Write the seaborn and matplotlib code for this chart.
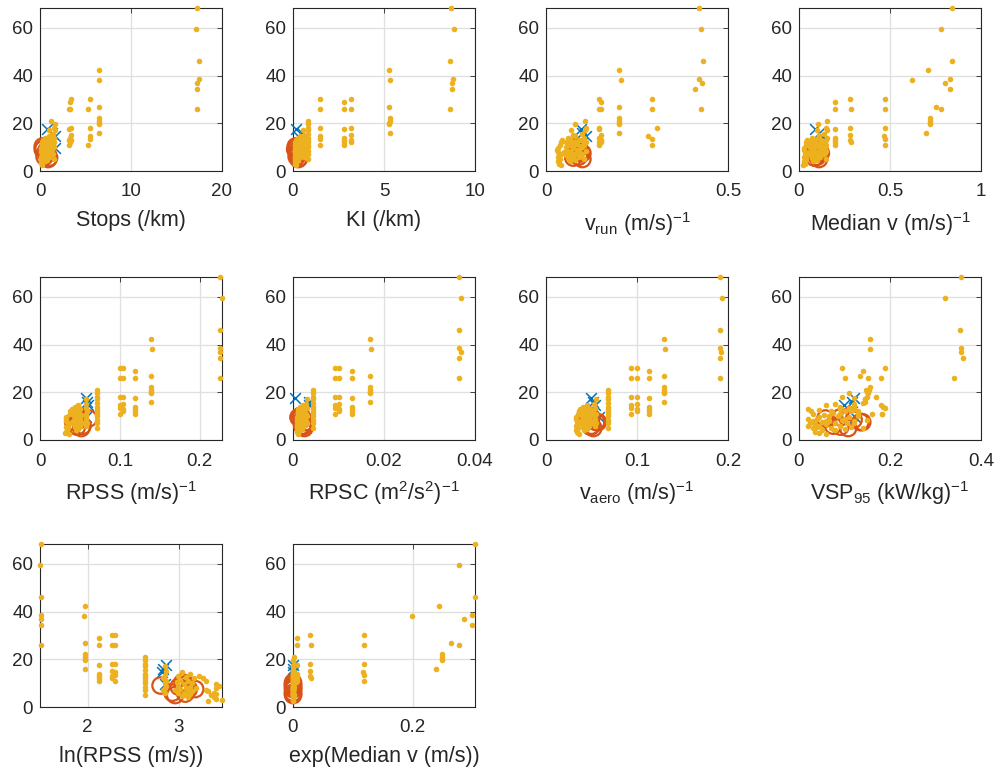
import numpy as np
import matplotlib
matplotlib.use("Agg")
import matplotlib.pyplot as plt
from matplotlib.ticker import FixedLocator, StrMethodFormatter
import seaborn as sns

# MATLAB default colour order
BLUE, RED, YELLOW = "#0072BD", "#D95319", "#EDB120"

# ---------------- group 1 (blue crosses) ----------------
blue_y     = [17.5, 16.0, 14.5, 9.5]
blue_stops = [0.75, 1.3, 1.6, 1.7]
blue_ki    = [0.15, 0.5, 0.3, 0.4]
blue_vrun  = [0.095, 0.1, 0.11, 0.1]
blue_medv  = [0.088, 0.11, 0.125, 0.12]
blue_rpss  = [0.057, 0.059, 0.06, 0.058]
blue_rpsc  = [0.0005, 0.0035, 0.0035, 0.003]
blue_vaero = [0.049, 0.052, 0.054, 0.058]
blue_vsp   = [0.12, 0.117, 0.098, 0.124]

# ---------------- group 2 (red open circles) ----------------
red_y     = [9.0, 6.0, 5.0, 10.3, 7.5, 5.6, 7.5, 9.5, 8.5]
red_stops = [0.3, 0.5, 0.9, 0.3, 0.6, 1.0, 0.8, 0.4, 0.7]
red_ki    = [0.12, 0.2, 0.3, 0.15, 0.25, 0.35, 0.3, 0.18, 0.22]
red_vrun  = [0.08, 0.09, 0.1, 0.085, 0.095, 0.075, 0.1, 0.09, 0.08]
red_medv  = [0.08, 0.1, 0.11, 0.09, 0.12, 0.085, 0.105, 0.095, 0.1]
red_rpss  = [0.0608, 0.0534, 0.0518, 0.0478, 0.0446, 0.0464, 0.0416, 0.046, 0.0498]
red_rpsc  = [0.0015, 0.002, 0.0025, 0.0018, 0.003, 0.0022, 0.0028, 0.0012, 0.002]
red_vaero = [0.045, 0.05, 0.052, 0.047, 0.055, 0.049, 0.057, 0.05, 0.048]
red_vsp   = [0.058, 0.075, 0.108, 0.113, 0.135, 0.091, 0.139, 0.091, 0.12]

# ---------------- group 3 (yellow dots) ----------------
# blocks: urban-heavy cycles (7, 8, 7, 6, 6) followed by the low cluster (13, 10, 24, 15)
yel_y = [
    68.3, 59.5, 46.0, 38.5, 37.0, 34.5, 26.0,
    42.5, 38.0, 27.0, 22.0, 21.0, 20.0, 19.5, 16.0,
    29.0, 26.0, 17.5, 14.0, 13.0, 12.0, 11.0,
    30.0, 26.0, 18.0, 14.5, 13.5, 11.0,
    30.0, 26.0, 18.0, 15.0, 13.0, 12.0,
    21.0, 19.5, 18.0, 17.0, 15.5, 14.0, 13.0, 12.0, 11.0, 10.0, 8.5, 7.0, 5.0,
    17.0, 15.0, 13.5, 12.0, 11.0, 10.0, 9.0, 8.0, 7.0, 6.0,
    14.5, 14.0, 13.0, 12.5, 12.0, 11.5, 11.0, 10.5, 10.0, 9.5, 9.0, 8.5,
    8.0, 8.0, 7.5, 7.0, 7.0, 6.5, 6.0, 6.0, 5.5, 5.0, 4.5, 4.0,
    13.0, 12.0, 11.0, 9.5, 9.0, 8.0, 7.0, 6.5, 6.0, 5.5, 5.0, 4.0, 3.5, 3.0, 2.5,
]
yel_stops = [
    17.2, 17.1, 17.5, 17.5, 17.3, 17.2, 17.2,
    6.5, 6.5, 6.5, 6.5, 6.5, 6.45, 6.5, 6.5,
    3.3, 3.2, 3.2, 3.3, 3.2, 3.3, 3.2,
    5.5, 5.3, 5.5, 5.5, 5.5, 5.3,
    3.4, 3.3, 3.4, 3.4, 3.4, 3.3,
    1.2, 1.6, 1.5, 1.6, 1.4, 1.5, 1.3, 1.5, 1.4, 1.5, 1.3, 1.4, 1.5,
    1.0, 1.3, 1.1, 1.2, 0.9, 1.0, 1.2, 0.9, 1.1, 1.0,
    1.0, 0.6, 1.1, 0.8, 0.4, 0.9, 0.5, 1.2, 0.4, 0.7, 1.0, 0.5,
    0.6, 0.3, 0.9, 0.5, 1.1, 0.4, 0.7, 1.0, 0.5, 0.6, 0.8, 0.5,
    0.3, 0.2, 0.25, 0.1, 0.15, 0.1, 0.3, 0.2, 0.15, 0.1, 0.2, 0.1, 0.15, 0.2, 0.25,
]
yel_ki = [
    8.7, 8.85, 8.65, 8.8, 8.75, 8.75, 8.65,
    5.3, 5.35, 5.3, 5.35, 5.35, 5.3, 5.3, 5.35,
    2.8, 2.8, 2.8, 2.8, 2.8, 2.8, 2.8,
    1.5, 1.5, 1.5, 1.5, 1.5, 1.5,
    3.2, 3.2, 3.2, 3.2, 3.2, 3.2,
    0.8, 0.8, 0.8, 0.8, 0.8, 0.8, 0.8, 0.8, 0.8, 0.8, 0.8, 0.8, 0.8,
    0.55, 0.6, 0.55, 0.6, 0.5, 0.55, 0.6, 0.5, 0.55, 0.6,
    0.4, 0.25, 0.45, 0.3, 0.15, 0.35, 0.2, 0.5, 0.15, 0.3, 0.4, 0.2,
    0.25, 0.1, 0.35, 0.2, 0.45, 0.15, 0.3, 0.4, 0.2, 0.25, 0.3, 0.2,
    0.15, 0.12, 0.1, 0.1, 0.12, 0.1, 0.14, 0.12, 0.1, 0.11, 0.13, 0.1, 0.12, 0.1, 0.14,
]
yel_vrun = [
    0.42, 0.425, 0.43, 0.42, 0.428, 0.41, 0.425,
    0.2, 0.205, 0.2, 0.2, 0.2, 0.2, 0.2, 0.2,
    0.15, 0.145, 0.145, 0.145, 0.15, 0.145, 0.145,
    0.29, 0.29, 0.305, 0.28, 0.29, 0.29,
    0.145, 0.15, 0.145, 0.15, 0.15, 0.15,
    0.107, 0.08, 0.11, 0.107, 0.1, 0.105, 0.1, 0.11, 0.105, 0.1, 0.11, 0.1, 0.105,
    0.07, 0.075, 0.065, 0.08, 0.07, 0.075, 0.085, 0.065, 0.08, 0.07,
    0.08, 0.06, 0.09, 0.07, 0.055, 0.085, 0.065, 0.095, 0.055, 0.075, 0.09, 0.06,
    0.07, 0.05, 0.085, 0.065, 0.1, 0.055, 0.075, 0.09, 0.06, 0.07, 0.08, 0.065,
    0.045, 0.04, 0.038, 0.032, 0.03, 0.034, 0.04, 0.036, 0.032, 0.035, 0.038, 0.033, 0.035, 0.036, 0.04,
]
yel_medv = [
    0.84, 0.78, 0.84, 0.83, 0.80, 0.83, 0.78,
    0.71, 0.62, 0.75, 0.72, 0.72, 0.72, 0.72, 0.70,
    0.2, 0.2, 0.2, 0.2, 0.2, 0.2, 0.2,
    0.47, 0.47, 0.47, 0.465, 0.47, 0.47,
    0.28, 0.285, 0.28, 0.28, 0.28, 0.285,
    0.152, 0.106, 0.15, 0.152, 0.14, 0.155, 0.15, 0.14, 0.15, 0.145, 0.15, 0.14, 0.15,
    0.1, 0.11, 0.095, 0.12, 0.1, 0.11, 0.12, 0.095, 0.105, 0.1,
    0.11, 0.07, 0.12, 0.09, 0.06, 0.1, 0.075, 0.125, 0.06, 0.085, 0.115, 0.07,
    0.08, 0.055, 0.105, 0.075, 0.13, 0.06, 0.09, 0.115, 0.07, 0.08, 0.1, 0.075,
    0.045, 0.04, 0.04, 0.03, 0.03, 0.032, 0.04, 0.035, 0.03, 0.033, 0.038, 0.03, 0.033, 0.035, 0.024,
]
yel_rpss = [
    0.225, 0.228, 0.225, 0.225, 0.226, 0.225, 0.225,
    0.139, 0.14, 0.139, 0.139, 0.139, 0.139, 0.139, 0.139,
    0.119, 0.119, 0.119, 0.119, 0.119, 0.119, 0.119,
    0.1, 0.1, 0.1, 0.1, 0.1, 0.1,
    0.104, 0.104, 0.104, 0.104, 0.104, 0.104,
    0.072, 0.072, 0.072, 0.072, 0.072, 0.072, 0.072, 0.072, 0.072, 0.072, 0.072, 0.072, 0.072,
    0.058, 0.057, 0.058, 0.059, 0.057, 0.058, 0.057, 0.058, 0.059, 0.058,
    0.048, 0.044, 0.05, 0.046, 0.042, 0.049, 0.045, 0.051, 0.043, 0.047, 0.05, 0.044,
    0.046, 0.041, 0.049, 0.045, 0.052, 0.043, 0.047, 0.05, 0.044, 0.046, 0.048, 0.045,
    0.04, 0.038, 0.037, 0.033, 0.032, 0.033, 0.037, 0.036, 0.034, 0.033, 0.035, 0.034, 0.033, 0.031, 0.036,
]
yel_rpsc = [
    0.0365, 0.037, 0.0365, 0.0365, 0.037, 0.0365, 0.0365,
    0.017, 0.0172, 0.017, 0.017, 0.017, 0.017, 0.017, 0.017,
    0.013, 0.013, 0.013, 0.013, 0.013, 0.013, 0.013,
    0.0093, 0.0093, 0.0093, 0.0093, 0.0093, 0.0093,
    0.01, 0.01, 0.01, 0.01, 0.01, 0.01,
    0.0045, 0.0045, 0.0045, 0.0045, 0.0045, 0.0045, 0.0045, 0.0045, 0.0045, 0.0045, 0.0045, 0.0045, 0.0045,
    0.003, 0.0028, 0.003, 0.0025, 0.0028, 0.003, 0.0026, 0.0028, 0.003, 0.0025,
    0.0022, 0.0016, 0.0024, 0.0019, 0.0013, 0.0021, 0.0017, 0.0025, 0.0014, 0.0019, 0.0023, 0.0015,
    0.0018, 0.0012, 0.0021, 0.0016, 0.0025, 0.0014, 0.0019, 0.0022, 0.0015, 0.0017, 0.002, 0.0016,
    0.0012, 0.001, 0.0011, 0.0008, 0.0009, 0.0008, 0.001, 0.0009, 0.0008, 0.0009, 0.001, 0.0008, 0.0009, 0.001, 0.0011,
]
yel_vaero = [
    0.191, 0.193, 0.191, 0.191, 0.192, 0.191, 0.191,
    0.13, 0.131, 0.13, 0.13, 0.13, 0.13, 0.13, 0.13,
    0.113, 0.113, 0.113, 0.113, 0.113, 0.113, 0.113,
    0.093, 0.093, 0.093, 0.093, 0.093, 0.093,
    0.1, 0.1, 0.1, 0.1, 0.1, 0.1,
    0.068, 0.068, 0.068, 0.068, 0.068, 0.068, 0.068, 0.068, 0.068, 0.068, 0.068, 0.068, 0.068,
    0.055, 0.053, 0.054, 0.052, 0.055, 0.053, 0.054, 0.052, 0.055, 0.054,
    0.045, 0.041, 0.048, 0.043, 0.039, 0.046, 0.042, 0.049, 0.04, 0.044, 0.047, 0.041,
    0.043, 0.038, 0.046, 0.042, 0.05, 0.04, 0.044, 0.047, 0.041, 0.043, 0.045, 0.042,
    0.037, 0.036, 0.035, 0.033, 0.033, 0.034, 0.035, 0.034, 0.033, 0.034, 0.035, 0.033, 0.034, 0.035, 0.036,
]
yel_vsp = [
    0.355, 0.32, 0.353, 0.357, 0.355, 0.36, 0.34,
    0.155, 0.155, 0.135, 0.155, 0.153, 0.15, 0.152, 0.145,
    0.14, 0.1, 0.12, 0.185, 0.12, 0.115, 0.183,
    0.19, 0.18, 0.17, 0.18, 0.19, 0.183,
    0.095, 0.152, 0.095, 0.12, 0.11, 0.13,
    0.147, 0.11, 0.15, 0.145, 0.14, 0.09, 0.12, 0.1, 0.16, 0.13, 0.15, 0.12, 0.14,
    0.145, 0.08, 0.11, 0.07, 0.09, 0.065, 0.1, 0.06, 0.08, 0.09,
    0.06, 0.12, 0.09, 0.045, 0.1, 0.075, 0.13, 0.055, 0.085, 0.11, 0.04, 0.095,
    0.065, 0.12, 0.05, 0.08, 0.105, 0.06, 0.09, 0.045, 0.115, 0.07, 0.1, 0.08,
    0.02, 0.027, 0.03, 0.045, 0.02, 0.03, 0.025, 0.035, 0.02, 0.04, 0.03, 0.05, 0.035, 0.045, 0.06,
]

n_yel = len(yel_y)
for arr in (yel_stops, yel_ki, yel_vrun, yel_medv, yel_rpss, yel_rpsc, yel_vaero, yel_vsp):
    assert len(arr) == n_yel, (len(arr), n_yel)


def ln_rpss(rpss_inv):
    return np.log(1.0 / np.asarray(rpss_inv))


def exp_medv(medv_inv):
    return np.exp(-1.0 / np.asarray(medv_inv))


panels = [
    ("Stops (/km)", blue_stops, red_stops, yel_stops, (0, 20), [0, 10, 20]),
    ("KI (/km)", blue_ki, red_ki, yel_ki, (0, 10), [0, 5, 10]),
    (r"v$_{\mathrm{run}}$ (m/s)$^{-1}$", blue_vrun, red_vrun, yel_vrun, (0, 0.5), [0, 0.5]),
    (r"Median v (m/s)$^{-1}$", blue_medv, red_medv, yel_medv, (0, 1), [0, 0.5, 1]),
    (r"RPSS (m/s)$^{-1}$", blue_rpss, red_rpss, yel_rpss, (0, max(yel_rpss)), [0, 0.1, 0.2]),
    (r"RPSC (m$^{2}$/s$^{2}$)$^{-1}$", blue_rpsc, red_rpsc, yel_rpsc, (0, 0.04), [0, 0.02, 0.04]),
    (r"v$_{\mathrm{aero}}$ (m/s)$^{-1}$", blue_vaero, red_vaero, yel_vaero, (0, 0.2), [0, 0.1, 0.2]),
    (r"VSP$_{95}$ (kW/kg)$^{-1}$", blue_vsp, red_vsp, yel_vsp, (0, 0.4), [0, 0.2, 0.4]),
    ("ln(RPSS (m/s))", ln_rpss(blue_rpss), ln_rpss(red_rpss), ln_rpss(yel_rpss),
     (ln_rpss(yel_rpss).min(), ln_rpss(yel_rpss).max()), [2, 3]),
    ("exp(Median v (m/s))", exp_medv(blue_medv), exp_medv(red_medv), exp_medv(yel_medv),
     (0, exp_medv(yel_medv).max()), [0, 0.2]),
]

sns.set_theme(style="white")
plt.rcParams["font.family"] = ["Liberation Sans", "DejaVu Sans"]
plt.rcParams["mathtext.fontset"] = "custom"
plt.rcParams["mathtext.rm"] = "Liberation Sans"
plt.rcParams["mathtext.it"] = "Liberation Sans:italic"
plt.rcParams["mathtext.bf"] = "Liberation Sans:bold"

AX_COL = "#262626"
fig = plt.figure(figsize=(10.0, 7.76), dpi=100)

col_left = [40, 293, 546, 799]
row_top = [8, 277, 544]
ax_w, ax_h = 182, 163

for i, (xlabel, xb, xr, xy, xlim, xticks) in enumerate(panels):
    r, c = divmod(i, 4)
    left = col_left[c] / 1000
    bottom = 1 - (row_top[r] + ax_h) / 776
    ax = fig.add_axes([left, bottom, ax_w / 1000, ax_h / 776])

    sns.scatterplot(x=np.asarray(xb), y=blue_y, ax=ax, marker="x", color=BLUE,
                    s=60, linewidth=1.1, clip_on=False, zorder=3)
    sns.scatterplot(x=np.asarray(xr), y=red_y, ax=ax, marker="o", color=RED,
                    facecolor="none", edgecolor=RED, s=140, linewidth=1.6,
                    clip_on=False, zorder=4)
    sns.scatterplot(x=np.asarray(xy), y=yel_y, ax=ax, marker="o", color=YELLOW,
                    s=16, linewidth=0, clip_on=False, zorder=5)

    ax.set_xlim(*xlim)
    ax.set_ylim(0, 68.3)
    ax.xaxis.set_major_locator(FixedLocator(xticks))
    ax.yaxis.set_major_locator(FixedLocator([0, 20, 40, 60]))
    ax.xaxis.set_major_formatter(StrMethodFormatter("{x:g}"))
    ax.yaxis.set_major_formatter(StrMethodFormatter("{x:g}"))
    ax.grid(True, color="#dfdfdf", linewidth=0.9)
    ax.set_axisbelow(True)
    ax.tick_params(direction="in", length=3.5, width=0.6, colors=AX_COL,
                   labelsize=13.5, top=True, right=True)
    ax.tick_params(axis="x", pad=9)
    ax.tick_params(axis="y", pad=5)
    for sp in ax.spines.values():
        sp.set_visible(True)
        sp.set_color(AX_COL)
        sp.set_linewidth(0.8)
    ax.set_xlabel(xlabel, fontsize=15.5, color=AX_COL, labelpad=7)
    ax.set_ylabel("")

fig.savefig("out.png", dpi=100, facecolor="white")
